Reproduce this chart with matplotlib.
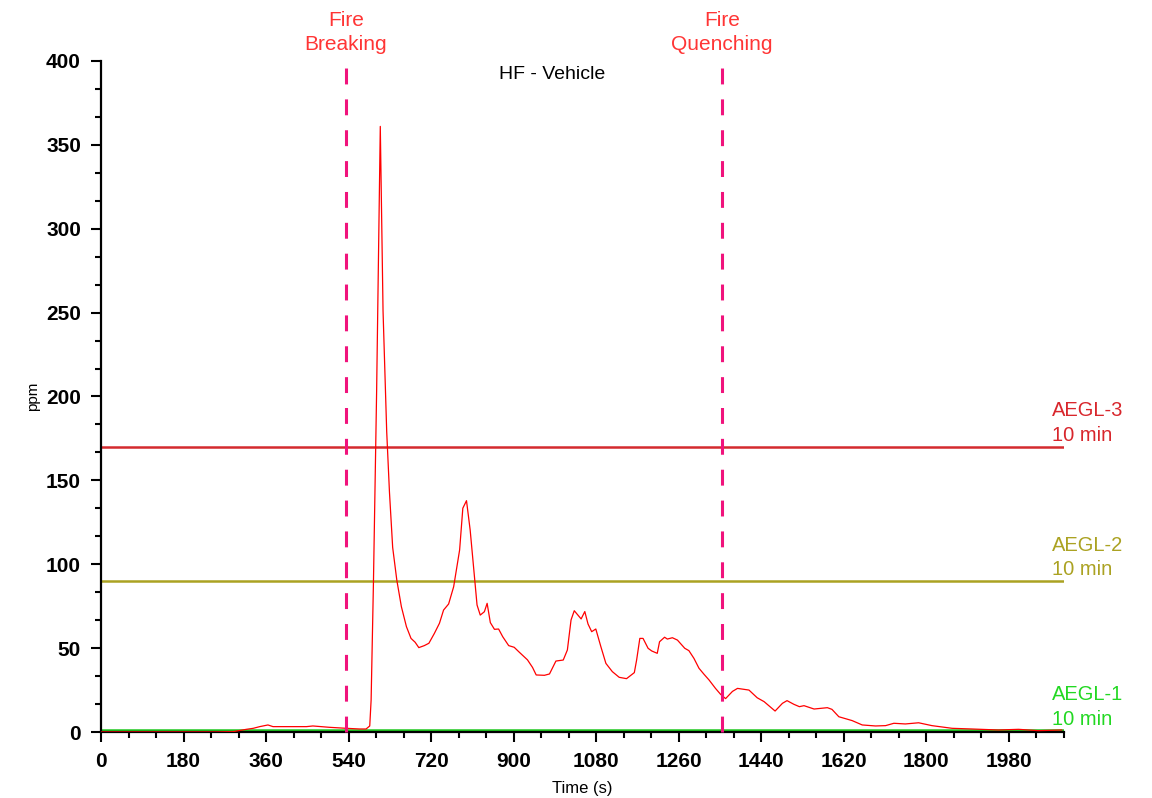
import matplotlib
matplotlib.use("Agg")
import matplotlib.pyplot as plt
from matplotlib.ticker import MultipleLocator
import numpy as np

plt.rcParams['font.family'] = ['Liberation Sans', 'DejaVu Sans']

# HF concentration measured during the vehicle fire test
time_s = [0, 250, 288, 317, 332, 346, 364, 375, 411, 448, 462, 498, 535, 564, 578, 586,
          589, 594, 601, 609, 615, 623, 629, 636, 645, 655, 666, 676, 685, 693, 705, 715,
          727, 738, 747, 758, 769, 782, 789, 797, 805, 813, 820, 827, 836, 842, 849, 858,
          867, 876, 889, 901, 912, 930, 941, 949, 967, 978, 992, 1008, 1017, 1025, 1032,
          1047, 1055, 1062, 1070, 1079, 1090, 1101, 1115, 1130, 1146, 1163, 1168, 1175,
          1182, 1193, 1201, 1213, 1218, 1229, 1235, 1246, 1257, 1273, 1282, 1293, 1304,
          1315, 1326, 1340, 1351, 1362, 1377, 1388, 1413, 1431, 1446, 1470, 1486, 1496,
          1511, 1523, 1533, 1555, 1584, 1594, 1609, 1638, 1660, 1689, 1711, 1729, 1754,
          1783, 1812, 1856, 1899, 1957, 2001, 2044, 2095]
hf_ppm = [0.0, 0.0, 0.2, 1.6, 2.2, 3.2, 4.2, 3.2, 3.2, 3.2, 3.6, 2.8, 2.2, 1.8, 1.8, 3.6,
          19, 88, 203, 361, 251, 179, 143, 110, 90.6, 74.7, 62.8, 55.8, 53.5, 50.3, 51.5, 52.9,
          58.8, 64.8, 72.7, 76.3, 86.6, 108.5, 133.4, 137.9, 120.4, 96.6, 75.7, 69.7, 71.7,
          76.7, 65.2, 61.2, 61.4, 56.8, 51.5, 50.5, 47.6, 43.0, 38.5, 34.0, 33.8, 34.6, 42.3,
          42.9, 48.9, 66.8, 72.3, 67.4, 71.8, 64.4, 59.8, 61.4, 50.9, 40.9, 36.0, 32.6, 31.8,
          35.4, 42.9, 55.8, 55.8, 49.9, 48.3, 46.9, 53.8, 56.5, 55.4, 56.2, 54.8, 49.9, 48.5,
          43.9, 38.0, 34.4, 31.0, 26.0, 22.5, 19.9, 24.2, 26.0, 25.0, 20.4, 18.1, 12.5, 17.1,
          18.7, 16.5, 15.1, 15.7, 13.7, 14.5, 13.5, 9.1, 6.8, 4.2, 3.6, 3.8, 5.2, 4.8, 5.5,
          3.8, 2.2, 1.8, 1.2, 1.6, 0.8, 1.2]

# AEGL 10 min thresholds
aegl_names = ["AEGL-3\n10 min", "AEGL-2\n10 min", "AEGL-1\n10 min"]
aegl_values = [170, 90, 1]
aegl_colors = ["#d42a2e", "#aba222", "#1fc81f"]
aegl_text_colors = ["#d8262c", "#aba222", "#22d822"]

# fire events
event_names = ["Fire\nBreaking", "Fire\nQuenching"]
event_times = [534, 1354]

fig = plt.figure(figsize=(11.52, 7.98), dpi=100)
ax = fig.add_axes([0.0877, 0.0827, 0.8359, 0.8409])

for val, col in zip(aegl_values, aegl_colors):
    ax.axhline(val, color=col, lw=1.8, zorder=2)

ax.plot(time_s, hf_ppm, color="#ff0000", lw=0.9, zorder=3)

for t, name in zip(event_times, event_names):
    ax.plot([t, t], [0, 399], color="#f0137c", lw=2.2,
            linestyle=(0, (5.2, 4.9)), zorder=4, clip_on=False)
    ax.text(t, 1.01, name, transform=ax.get_xaxis_transform(), ha="center",
            va="bottom", color="#ff3535", fontsize=15, linespacing=1.38)

for val, name, col in zip(aegl_values, aegl_names, aegl_text_colors):
    ax.text(2074, val + 1.0, name, ha="left", va="bottom", color=col,
            fontsize=14.5, linespacing=1.38)

ax.text(983, 392, "HF - Vehicle", ha="center", va="center", fontsize=14)

ax.set_xlim(0, 2100)
ax.set_ylim(0, 400)
ax.xaxis.set_major_locator(MultipleLocator(180))
ax.xaxis.set_minor_locator(MultipleLocator(60))
ax.yaxis.set_major_locator(MultipleLocator(50))
ax.yaxis.set_minor_locator(MultipleLocator(50 / 3))

ax.spines["top"].set_visible(False)
ax.spines["right"].set_visible(False)
for s in ["left", "bottom"]:
    ax.spines[s].set_linewidth(1.6)

ax.tick_params(which="major", length=7.5, width=1.5, pad=7, labelsize=15)
ax.tick_params(which="minor", length=4.5, width=1.5)
for lbl in ax.get_xticklabels() + ax.get_yticklabels():
    lbl.set_fontweight("bold")

ax.set_xlabel("Time (s)", fontsize=12, labelpad=7)
ax.set_ylabel("ppm", fontsize=11, labelpad=4)

fig.savefig("out.png", dpi=100)
